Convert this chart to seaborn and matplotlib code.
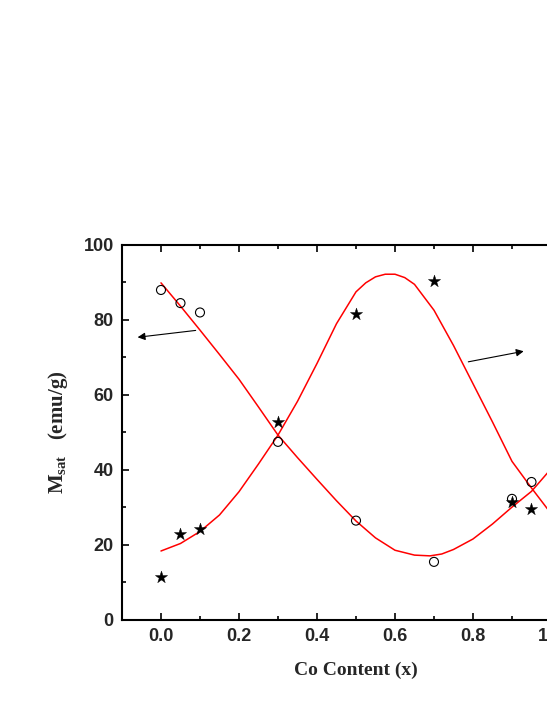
import numpy as np
import pandas as pd
import matplotlib
matplotlib.use("Agg")
import matplotlib.pyplot as plt
from matplotlib.ticker import MultipleLocator
import seaborn as sns

# measured points
co_x = [0.0, 0.05, 0.10, 0.30, 0.50, 0.70, 0.90, 0.95]
circle_y = [88.0, 84.5, 82.0, 47.5, 26.5, 15.5, 32.3, 36.8]
star_y = [11.5, 22.8, 24.2, 52.8, 81.5, 90.5, 31.5, 29.7]

# fit curves
fit_a_x = [0.0, 0.05, 0.10, 0.15, 0.20, 0.25, 0.30, 0.35, 0.40, 0.45, 0.50,
           0.55, 0.60, 0.65, 0.69, 0.72, 0.75, 0.80, 0.85, 0.90, 0.95, 1.0]
fit_a_y = [89.9, 83.7, 77.3, 70.8, 64.2, 56.8, 49.3, 43.3, 37.5, 31.8, 26.4,
           21.9, 18.6, 17.3, 17.1, 17.6, 18.8, 21.6, 25.6, 30.1, 34.3, 40.3]
fit_b_x = [0.0, 0.05, 0.10, 0.15, 0.20, 0.25, 0.30, 0.35, 0.40, 0.45, 0.50,
           0.525, 0.55, 0.575, 0.60, 0.625, 0.65, 0.70, 0.75, 0.80, 0.85, 0.90, 0.95, 1.0]
fit_b_y = [18.4, 20.4, 23.6, 28.0, 34.2, 41.6, 49.3, 58.3, 68.4, 79.0, 87.5,
           89.9, 91.5, 92.2, 92.2, 91.3, 89.5, 82.6, 73.2, 63.0, 52.8, 42.3, 35.2, 28.4]

sns.set_style("ticks")
plt.rcParams['font.family'] = ['Liberation Sans', 'DejaVu Sans']

fig = plt.figure(figsize=(5.47, 7.08), dpi=100)
ax = fig.add_axes([0.2230, 0.1243, 0.8556, 0.5297])

fa = pd.DataFrame({'x': fit_a_x, 'y': fit_a_y})
fb = pd.DataFrame({'x': fit_b_x, 'y': fit_b_y})
sns.lineplot(data=fa, x='x', y='y', sort=False, color='red', lw=1.1, ax=ax)
sns.lineplot(data=fb, x='x', y='y', sort=False, color='red', lw=1.1, ax=ax)

sns.scatterplot(x=co_x, y=circle_y, marker='o', s=42, facecolor='none',
                edgecolor='black', linewidth=0.8, ax=ax, zorder=3)
sns.scatterplot(x=co_x, y=star_y, marker='*', s=85, color='black',
                edgecolor='black', linewidth=0.3, ax=ax, zorder=3)

# arrows pointing to the axes
ax.annotate('', xy=(-0.067, 75.3), xytext=(0.096, 77.3),
            arrowprops=dict(arrowstyle='-|>', color='black', lw=0.8, mutation_scale=11))
ax.annotate('', xy=(0.937, 71.8), xytext=(0.781, 68.7),
            arrowprops=dict(arrowstyle='-|>', color='black', lw=0.8, mutation_scale=11))

ax.set_xlim(-0.1, 1.1)
ax.set_ylim(0, 100)
ax.xaxis.set_major_locator(MultipleLocator(0.2))
ax.xaxis.set_minor_locator(MultipleLocator(0.1))
ax.yaxis.set_major_locator(MultipleLocator(20))
ax.yaxis.set_minor_locator(MultipleLocator(10))
ax.set_xticks([0.0, 0.2, 0.4, 0.6, 0.8, 1.0])
ax.set_xticklabels(['0.0', '0.2', '0.4', '0.6', '0.8', '1.0'])

for s in ax.spines.values():
    s.set_linewidth(1.5)
    s.set_color('black')
ax.tick_params(which='both', direction='in', top=True, right=True, width=1.2, color='black')
ax.tick_params(which='major', length=5, labelsize=13, pad=6)
ax.tick_params(which='minor', length=3)
for lab in ax.get_xticklabels() + ax.get_yticklabels():
    lab.set_fontweight('bold')

ax.set_xlabel('Co Content (x)', family=['Liberation Serif'], fontsize=14,
              fontweight='bold', labelpad=12)
ax.set_ylabel(r'M$_{\mathregular{sat}}$   (emu/g)', family=['Liberation Serif'], fontsize=15,
              fontweight='bold', labelpad=10)

fig.savefig('out.png', dpi=100)
